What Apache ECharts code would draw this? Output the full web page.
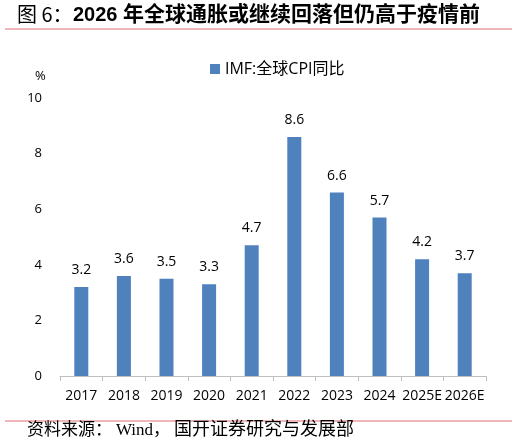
<!DOCTYPE html>
<html><head><meta charset="utf-8">
<script src="https://cdn.jsdelivr.net/npm/echarts@6/dist/echarts.min.js"></script>
<style>html,body{margin:0;padding:0;background:#fff}#c{width:518px;height:448px}</style>
</head><body><div id="c"></div>
<script>
const categories = ['2017','2018','2019','2020','2021','2022','2023','2024','2025E','2026E'];
const cpiValues = [3.2, 3.6, 3.5, 3.3, 4.7, 8.6, 6.6, 5.7, 4.2, 3.7];
const seriesName = 'IMF:全球CPI同比';
const yTicks = [0, 2, 4, 6, 8, 10];

const font = '"Open Sans", "Noto Sans CJK SC", sans-serif';
const cjk = '"Noto Sans CJK SC", sans-serif';
const serif = '"Liberation Serif", "Noto Sans CJK SC", serif';
const chart = echarts.init(document.getElementById('c'));
chart.setOption({
  animation: false,
  backgroundColor: '#fff',
  textStyle: { fontFamily: font },
  graphic: [
    { type: 'text', left: 17, top: 4, style: { text: '图 6：', fontSize: 20, fontFamily: cjk, fill: '#000' } },
    { type: 'text', left: 73, top: 5, style: { text: '2026', fontSize: 20, fontWeight: 'bold', fontFamily: '"Liberation Sans", sans-serif', fill: '#000' } },
    { type: 'text', left: 123, top: 3, style: { text: '年全球通胀或继续回落但仍高于疫情前', fontSize: 21, fontWeight: 'bold', fontFamily: cjk, fill: '#000' } },
    { type: 'line', shape: { x1: 5, y1: 29, x2: 512, y2: 29 }, style: { stroke: '#e0707a', lineWidth: 1.2 } },
    { type: 'line', shape: { x1: 5, y1: 421, x2: 512, y2: 421 }, style: { stroke: '#e0707a', lineWidth: 1.2 } },
    { type: 'text', left: 27, top: 422, style: { text: '资料来源：', fontSize: 17, fontFamily: serif, fill: '#000' } },
    { type: 'text', left: 116, top: 422, style: { text: 'Wind，', fontSize: 17, fontFamily: serif, fill: '#000' } },
    { type: 'text', left: 174, top: 421, style: { text: '国开证券研究与发展部', fontSize: 18, fontFamily: serif, fill: '#000' } },
    { type: 'text', left: 35, top: 70, style: { text: '%', fontSize: 13, fill: '#000', fontFamily: font } }
  ],
  legend: {
    top: 56, left: 205,
    itemWidth: 10, itemHeight: 10, icon: 'rect', itemGap: 5,
    textStyle: { fontSize: 16, color: '#000', fontFamily: font },
    data: [seriesName]
  },
  grid: { left: 60, right: 32, top: 98, bottom: 72, containLabel: false },
  xAxis: {
    type: 'category', data: categories,
    axisLine: { lineStyle: { color: '#bfbfbf' } },
    axisTick: { show: true, alignWithLabel: false, length: 5, lineStyle: { color: '#bfbfbf' } },
    axisLabel: { fontSize: 14, color: '#000', margin: 13, interval: 0 }
  },
  yAxis: {
    type: 'value', min: yTicks[0], max: yTicks[yTicks.length - 1], interval: 2,
    axisLine: { show: false }, axisTick: { show: false },
    splitLine: { show: false },
    axisLabel: { fontSize: 13, color: '#000', margin: 18 }
  },
  series: [{
    name: seriesName, type: 'bar', data: cpiValues,
    barWidth: 14,
    itemStyle: { color: '#4f81bd' },
    label: { show: true, position: 'top', distance: 10, fontSize: 14, color: '#000',
      formatter: p => p.value.toFixed(1) }
  }]
});
</script></body></html>
